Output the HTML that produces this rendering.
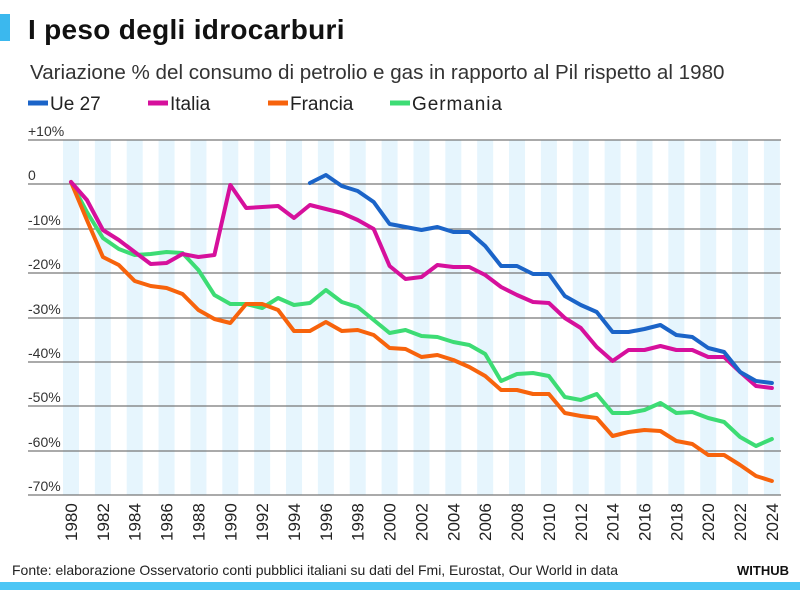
<!DOCTYPE html><html><head><meta charset="utf-8"><style>
body{margin:0;width:800px;height:590px;background:#fff;font-family:"Liberation Sans",sans-serif;overflow:hidden;position:relative}
</style></head><body>
<div style="position:absolute;left:0;top:14px;width:10px;height:27px;background:#3bb8ee"></div>
<div style="position:absolute;left:28px;top:14px;font-size:28px;font-weight:bold;color:#111;letter-spacing:0.3px">I peso degli idrocarburi</div>
<div style="position:absolute;left:30px;top:61px;font-size:20.6px;color:#333">Variazione % del consumo di petrolio e gas in rapporto al Pil rispetto al 1980</div>
<svg width="800" height="590" style="position:absolute;left:0;top:0">
<g font-size="19" fill="#222">
<line x1="28" y1="103" x2="48" y2="103" stroke="#1b64c8" stroke-width="5"/><text x="50" y="110">Ue 27</text>
<line x1="148" y1="103" x2="168" y2="103" stroke="#d6109c" stroke-width="5"/><text x="170" y="110">Italia</text>
<line x1="268" y1="103" x2="288" y2="103" stroke="#f7630c" stroke-width="5"/><text x="290" y="110">Francia</text>
<line x1="390" y1="103" x2="410" y2="103" stroke="#3ddc74" stroke-width="5"/><text x="412" y="110" textLength="90">Germania</text>
</g>
<g id="stripes" fill="#e6f5fd"></g>
<g stroke="#777" stroke-width="1.3">
<line x1="28" x2="781" y1="140" y2="140"/><line x1="28" x2="781" y1="184" y2="184"/><line x1="28" x2="781" y1="229" y2="229"/><line x1="28" x2="781" y1="273" y2="273"/><line x1="28" x2="781" y1="318" y2="318"/><line x1="28" x2="781" y1="362" y2="362"/><line x1="28" x2="781" y1="406" y2="406"/><line x1="28" x2="781" y1="451" y2="451"/><line x1="28" x2="781" y1="495" y2="495"/>
</g>
<g font-size="14" fill="#333">
<text x="28" y="136">+10%</text><text x="28" y="180">0</text><text x="28" y="225">-10%</text><text x="28" y="269">-20%</text><text x="28" y="314">-30%</text><text x="28" y="358">-40%</text><text x="28" y="402">-50%</text><text x="28" y="447">-60%</text><text x="28" y="491">-70%</text>
</g>
<g id="xl" font-size="17" fill="#222"></g>
<g fill="none" stroke-width="4" stroke-linejoin="round" stroke-linecap="round" id="lines"></g>
<text x="12" y="575" font-size="14" fill="#222" textLength="606">Fonte: elaborazione Osservatorio conti pubblici italiani su dati del Fmi, Eurostat, Our World in data</text>
<text x="789" y="575" font-size="13" font-weight="bold" fill="#111" text-anchor="end">WITHUB</text>
<rect x="0" y="582" width="800" height="8" fill="#4cc6f5"/>
</svg>
<script>
var X=function(y){return 71+(y-1980)*15.93};
var s='',xl='';
for(var y=1980;y<=2024;y+=2){s+='<rect x="'+(X(y)-8)+'" y="140" width="16" height="355"/>';
xl+='<text transform="translate('+(X(y)+6)+',541) rotate(-90)">'+y+'</text>';}
document.getElementById('stripes').innerHTML=s;document.getElementById('xl').innerHTML=xl;
var D={
"#3ddc74":[1980,[182,212,238,249,255,254,252,253,270,295,304,304,308,298,305,303,290,302,307,320,333,330,336,337,342,345,354,381,374,373,376,397,400,394,413,413,410,403,413,412,418,422,437,446,439]],
"#f7630c":[1980,[182,220,257,265,281,286,288,294,310,319,323,304,304,310,331,331,322,331,330,335,348,349,357,355,360,367,376,390,390,394,394,413,416,418,436,432,430,431,441,444,455,455,465,476,481]],
"#d6109c":[1980,[182,200,230,240,252,264,263,254,257,255,185,208,207,206,218,205,209,213,220,229,266,279,277,265,267,267,275,287,295,302,303,318,328,347,361,350,350,346,350,350,357,357,372,386,388]],
"#1b64c8":[1995,[183,175,186,191,202,224,227,230,227,232,232,246,266,266,274,274,296,305,312,332,332,329,325,335,337,348,352,372,381,383]]};
var h='';for(var c in D){var st=D[c][0],a=D[c][1],p=[];a.forEach(function(v,i){p.push(X(st+i).toFixed(1)+','+v)});
h+='<polyline stroke="'+c+'" points="'+p.join(' ')+'"/>';}
document.getElementById('lines').innerHTML=h;
</script>
</body></html>
